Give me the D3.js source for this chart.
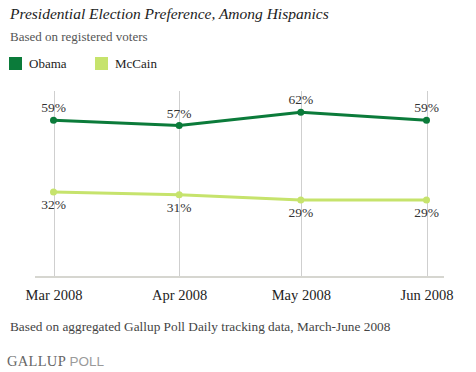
<!DOCTYPE html>
<html>
<head>
<meta charset="utf-8">
<script src="https://cdn.jsdelivr.net/npm/d3@7"></script>
<style>
  body { margin: 0; background: #fff; }
  svg { display: block; font-family: "Liberation Serif", "DejaVu Serif", serif; }
</style>
</head>
<body>
<div id="chart"></div>
<script>
// Chart data
const months = ['2008-03-01', '2008-04-01', '2008-05-01', '2008-06-01'];
const monthLabels = ['Mar 2008', 'Apr 2008', 'May 2008', 'Jun 2008'];
const obama = [59, 57, 62, 59];
const mccain = [32, 31, 29, 29];
const seriesNames = ['Obama', 'McCain'];
const seriesColors = ['#0b7b3a', '#c6e36c'];

const width = 476, height = 372;
const parse = d3.timeParse('%Y-%m-%d');
const dates = months.map(parse);

const svg = d3.select('#chart').append('svg')
  .attr('width', width)
  .attr('height', height);

// Scales
const x = d3.scaleTime()
  .domain(d3.extent(dates))
  .range([53.5, 426.5]);

const y = d3.scaleLinear()
  .domain([0, 70])
  .range([277, 91]);

// Title and subtitle
svg.append('text')
  .attr('x', 10).attr('y', 19)
  .style('font-size', '15.5px')
  .style('font-style', 'italic')
  .style('fill', '#222')
  .text('Presidential Election Preference, Among Hispanics');

svg.append('text')
  .attr('x', 10).attr('y', 41)
  .style('font-size', '13px')
  .style('fill', '#555')
  .text('Based on registered voters');

// Legend
const legend = svg.append('g');
const legendX = [9, 95];
seriesNames.forEach((name, i) => {
  legend.append('rect')
    .attr('x', legendX[i]).attr('y', 57)
    .attr('width', 13).attr('height', 13)
    .attr('fill', seriesColors[i]);
  legend.append('text')
    .attr('x', legendX[i] + 20).attr('y', 68)
    .style('font-size', '13px')
    .style('fill', '#222')
    .text(name);
});

// Vertical gridlines
svg.append('g')
  .selectAll('line')
  .data(dates)
  .join('line')
  .attr('x1', d => Math.round(x(d)) + 0.5)
  .attr('x2', d => Math.round(x(d)) + 0.5)
  .attr('y1', y.range()[1])
  .attr('y2', y(0))
  .attr('stroke', '#cfcfcf')
  .attr('stroke-width', 1);

// Baseline
svg.append('line')
  .attr('x1', 35).attr('x2', 444)
  .attr('y1', y(0)).attr('y2', y(0))
  .attr('stroke', '#d6d6d0')
  .attr('stroke-width', 2);

// X axis labels
const xAxis = d3.axisBottom(x)
  .tickValues(dates)
  .tickSize(0)
  .tickPadding(13)
  .tickFormat((d, i) => monthLabels[i]);

const axisG = svg.append('g')
  .attr('transform', `translate(0,${y(0)})`)
  .call(xAxis);
axisG.select('.domain').remove();
axisG.selectAll('text')
  .style('font-family', '"Liberation Serif", "DejaVu Serif", serif')
  .style('font-size', '14.5px')
  .style('fill', '#222');

// Lines, points and labels
const line = d3.line()
  .x((d, i) => x(dates[i]))
  .y(d => y(d));

[obama, mccain].forEach((vals, s) => {
  svg.append('path')
    .datum(vals)
    .attr('d', line)
    .attr('fill', 'none')
    .attr('stroke', seriesColors[s])
    .attr('stroke-width', 3);

  svg.append('g')
    .selectAll('circle')
    .data(vals)
    .join('circle')
    .attr('cx', (d, i) => x(dates[i]))
    .attr('cy', d => y(d))
    .attr('r', 3.5)
    .attr('fill', seriesColors[s]);

  svg.append('g')
    .selectAll('text')
    .data(vals)
    .join('text')
    .attr('x', (d, i) => x(dates[i]))
    .attr('y', d => s === 0 ? y(d) - 8 : y(d) + 17)
    .attr('text-anchor', 'middle')
    .style('font-size', '13.5px')
    .style('fill', '#333')
    .text(d => d + '%');
});

// Footer
svg.append('text')
  .attr('x', 10).attr('y', 331)
  .style('font-size', '13.3px')
  .style('fill', '#444')
  .text('Based on aggregated Gallup Poll Daily tracking data, March-June 2008');

const brand = svg.append('text')
  .attr('x', 7).attr('y', 366)
  .style('font-size', '14.5px');
brand.append('tspan')
  .style('fill', '#666')
  .style('letter-spacing', '0.3px')
  .text('GALLUP ');
brand.append('tspan')
  .style('font-family', '"Liberation Sans", Arial, sans-serif')
  .style('font-size', '13.5px')
  .style('fill', '#9a9a9a')
  .text('POLL');
</script>
</body>
</html>
